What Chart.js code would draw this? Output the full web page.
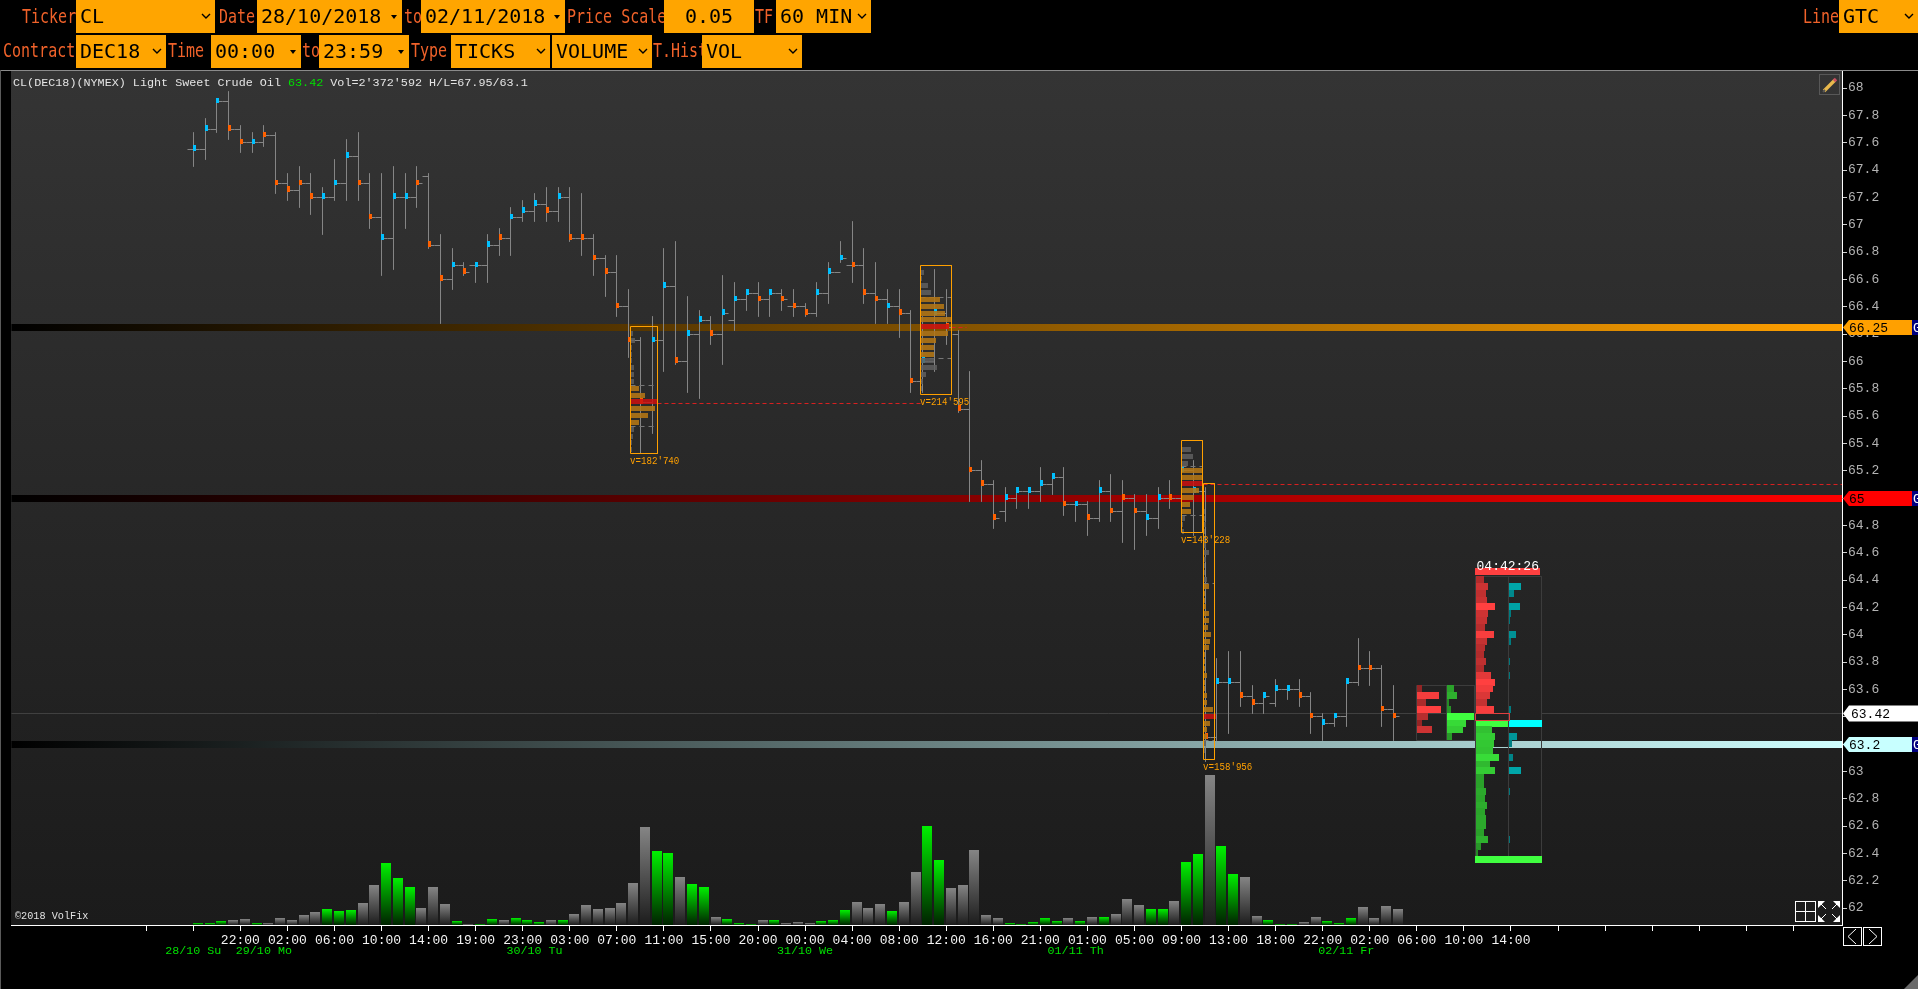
<!DOCTYPE html>
<html>
<head>
<meta charset="utf-8">
<title>CL DEC18 VolFix</title>
<script src="https://cdn.jsdelivr.net/npm/chart.js@4/dist/chart.umd.min.js"></script>
<style>
  html, body { margin: 0; padding: 0; background: #000; overflow: hidden; }
  #wrap { position: relative; width: 1918px; height: 989px; }
  #cv { position: absolute; left: 0; top: 0; }
  #overlay { position: absolute; left: 0; top: 0; width: 1918px; height: 989px; pointer-events: none; }
  .lbl, .wid, .txt { position: absolute; font-family: "DejaVu Sans Mono", monospace; white-space: pre; }
  .lbl { color: #f0622a; font-size: 15px; line-height: 18px; transform: scaleY(1.3); }
  .wid { background: #ffa500; color: #000; font-size: 20px; line-height: 33px; transform-origin: top left; }
  .txt { font-family: "Liberation Mono", monospace; color: #e4e4e4; }
  svg { position: absolute; }
</style>
</head>
<body>
<div id="wrap">
  <canvas id="cv" width="1918" height="989"></canvas>
  <div id="overlay"></div>
</div>
<script>
// price bars, one entry per 60 min bar
const opens = [67.55,67.55,67.7,67.9,67.7,67.6,67.6,67.65,67.3,67.25,67.3,67.2,67.2,67.3,67.5,67.3,67.05,66.9,67.2,67.2,67.35,66.85,66.6,66.7,66.7,66.7,66.85,66.9,67.05,67.1,67.15,67.1,67.2,66.9,66.9,66.75,66.65,66.4,66.15,65.7,66.15,66.55,66.0,66.2,66.3,66.2,66.3,66.45,66.5,66.45,66.5,66.4,66.4,66.35,66.5,66.65,66.7,66.7,66.5,66.45,66.4,66.35,65.85,66.0,66.35,66.2,65.65,65.2,65.1,64.9,65.0,65.05,65.05,65.1,65.15,64.95,64.95,64.85,65.05,64.9,65.0,64.9,64.85,65.0,65.0,65.2,65.05,63.25,63.65,63.65,63.55,63.5,63.5,63.6,63.6,63.55,63.4,63.35,63.4,63.65,63.75,63.75,63.45];
const highs = [67.65,67.75,67.9,67.95,67.7,67.65,67.7,67.65,67.35,67.4,67.35,67.25,67.45,67.6,67.65,67.35,67.35,67.4,67.35,67.4,67.35,66.9,66.8,66.7,66.7,66.9,66.95,67.1,67.15,67.2,67.25,67.25,67.25,67.2,66.9,66.75,66.75,66.5,66.15,66.3,66.8,66.85,66.45,66.35,66.3,66.6,66.55,66.5,66.55,66.5,66.5,66.5,66.4,66.55,66.7,66.85,67.0,66.8,66.7,66.5,66.5,66.35,66.3,66.65,66.5,66.2,65.9,65.25,65.1,65.05,65.05,65.05,65.2,65.15,65.2,64.95,64.95,65.1,65.15,65.1,65.0,65.0,65.05,65.1,65.25,65.25,65.05,63.8,63.85,63.85,63.6,63.55,63.65,63.6,63.65,63.55,63.4,63.4,63.65,63.95,63.85,63.75,63.6];
const lows = [67.45,67.5,67.7,67.65,67.55,67.55,67.6,67.25,67.2,67.15,67.1,66.95,67.2,67.2,67.2,67.0,66.65,66.7,67.0,67.15,66.85,66.3,66.55,66.65,66.6,66.6,66.8,66.8,67.05,67.05,67.05,67.05,66.9,66.8,66.65,66.5,66.35,66.05,65.35,65.5,65.95,66.0,65.8,65.75,66.15,66.0,66.25,66.4,66.35,66.35,66.4,66.35,66.35,66.35,66.45,66.75,66.6,66.45,66.3,66.3,66.2,65.8,65.8,65.95,66.15,65.65,65.0,65.0,64.8,64.85,64.95,64.95,65.0,65.05,64.9,64.85,64.75,64.85,64.85,64.7,64.65,64.75,64.8,64.95,64.8,64.75,63.1,63.25,63.3,63.5,63.45,63.45,63.5,63.55,63.5,63.3,63.25,63.35,63.35,63.65,63.65,63.35,63.25];
const closes = [67.55,67.7,67.9,67.7,67.6,67.6,67.65,67.3,67.25,67.3,67.2,67.2,67.3,67.5,67.3,67.05,66.9,67.2,67.2,67.3,66.85,66.6,66.7,66.65,66.7,66.85,66.9,67.05,67.1,67.15,67.1,67.2,66.9,66.9,66.75,66.65,66.4,66.15,65.7,66.15,66.55,66.0,66.2,66.3,66.2,66.35,66.45,66.5,66.45,66.5,66.45,66.4,66.35,66.5,66.65,66.75,66.7,66.5,66.45,66.4,66.35,65.85,66.0,66.35,66.25,65.65,65.2,65.1,64.85,65.0,65.05,65.05,65.1,65.15,64.95,64.95,64.85,65.05,64.9,65.0,64.9,64.85,65.0,65.0,65.2,65.05,63.25,63.65,63.65,63.55,63.5,63.55,63.6,63.6,63.55,63.4,63.35,63.4,63.65,63.75,63.75,63.45,63.4];
const volumes = [2120,2120,4240,5300,6360,2120,2120,7420,5300,10600,13780,16960,14840,15900,23320,42400,65720,49820,40280,18020,40280,22260,4240,1060,1060,6360,5300,7420,5300,3180,5300,5300,11660,21200,16960,18020,23320,44520,103880,78440,76320,50880,43460,40280,8480,6360,2120,1060,5300,5300,2120,3180,2120,4240,5300,15900,24380,18020,22260,14840,24380,56180,104940,68900,39220,42400,79500,10600,7420,2120,1060,3180,7420,4240,7420,4240,8480,8480,11660,27560,21200,16960,16960,25440,66780,75260,158956,83740,54060,50880,9540,5300,1060,1060,3180,8480,4240,2120,7420,19080,7420,20140,16960];
const greenBars = [1,2,3,6,12,13,14,17,18,19,23,25,26,28,29,30,32,40,41,43,44,46,47,48,50,54,55,56,60,63,64,70,71,72,73,74,76,78,82,83,85,86,88,89,92,93,94,97,98,99];
const orangeBars = [4,5,7,8,9,10,11,15,16,20,21,22,24,27,31,33,34,35,36,37,38,39,42,45,49,51,52,53,57,58,59,61,62,65,66,67,68,69,75,77,79,80,81,84,87,90,91,95,96,100,101,102,103];

// time axis
const timeLabels = ["22:00","02:00","06:00","10:00","14:00","19:00","23:00","03:00","07:00","11:00","15:00","20:00","00:00","04:00","08:00","12:00","16:00","21:00","01:00","05:00","09:00","13:00","18:00","22:00","02:00","06:00","10:00","14:00"];
const dateBars = [1,7,30,53,76,99];
const dateLabels = ["28/10 Su","29/10 Mo","30/10 Tu","31/10 We","01/11 Th","02/11 Fr"];

// horizontal GTC lines and price tags
const bandPrices = [66.25, 65, 63.2];
const bandColors = ["#ffa000", "#ff0000", "#d0ffff"];
const tagPrices = [66.25, 65, 63.42, 63.2];
const tagTexts = ["66.25", "65", "63.42", "63.2"];
const tagColors = ["#ffa000", "#ff0000", "#ffffff", "#c8ffff"];
const lastPrice = 63.42;

// volume profile boxes: first bar, last bar, top price, bottom price
const boxStart = [38.14, 62.79, 84.98, 86.85];
const boxEnd = [40.47, 65.46, 86.8, 87.82];
const boxTop = [66.256, 66.703, 65.422, 65.108];
const boxBottom = [65.324, 65.759, 64.749, 63.088];
const boxLabels = ["v=182'740", "v=214'595", "v=143'228", "v=158'956"];
const boxPoc = [65.7, 66.25, 65.1, 63.4];
const boxVah = [65.825, 66.465, 65.23, 64.375];
const boxVal = [65.525, 66.02, 64.875, 63.225];
const boxPrices = [
  [66.2,66.15,66.1,66.05,66.0,65.95,65.9,65.85,65.8,65.75,65.7,65.65,65.6,65.55,65.5,65.45,65.4,65.35],
  [66.65,66.6,66.55,66.5,66.45,66.4,66.35,66.3,66.25,66.2,66.15,66.1,66.05,66.0,65.95,65.9,65.85,65.8],
  [65.35,65.3,65.25,65.2,65.15,65.1,65.05,65.0,64.95,64.9,64.85,64.8,64.75],
  [64.9,64.85,64.8,64.75,64.7,64.65,64.6,64.55,64.5,64.45,64.4,64.35,64.3,64.25,64.2,64.15,64.1,64.05,64.0,63.95,63.9,63.85,63.8,63.75,63.7,63.65,63.6,63.55,63.5,63.45,63.4,63.35,63.3,63.25,63.2,63.15]
];
const boxSizes = [
  [2,4,1,1,1,3,3,3,8,14,26,24,17,8,3,2,1,1],
  [3,1,7,10,19,23,24,30,28,27,15,13,13,13,16,5,2,1],
  [9,11,6,20,20,20,17,12,8,9,3,1,2],
  [1,1,2,1,1,2,5,2,1,1,3,5,1,1,2,5,5,4,7,6,5,1,1,1,3,1,1,3,3,9,12,6,3,3,2,1]
];

// session profile panels on the right
const panelAPrices = [63.6,63.55,63.5,63.45,63.4,63.35,63.3,63.25];
const panelARed = [5,22,9,24,11,5,15,0];
const panelAGreen = [7,10,2,4,27,19,16,5];
const panelRedPrices = [64.4,64.35,64.3,64.25,64.2,64.15,64.1,64.05,64.0,63.95,63.9,63.85,63.8,63.75,63.7,63.65,63.6,63.55,63.5,63.45];
const panelRedSizes = [8,12,10,11,19,12,11,9,18,11,9,8,10,8,15,19,17,14,11,18];
const panelGreenPrices = [63.35,63.3,63.25,63.2,63.15,63.1,63.05,63.0,62.95,62.9,62.85,62.8,62.75,62.7,62.65,62.6,62.55,62.5,62.45,62.4];
const panelGreenSizes = [32,16,19,18,17,23,14,19,8,8,10,9,11,9,10,10,8,12,5,2];
const panelTealPrices = [64.35,64.3,64.2,64.15,64.1,64.0,63.95,63.8,63.7,63.45,63.35,63.25,63.2,63.1,63.0,62.85,62.5];
const panelTealSizes = [12,5,11,2,1,7,2,1,1,2,33,8,3,4,12,1,1];

const FONT = '"Liberation Mono", monospace';
const barsPerUnit = 1 / 11.765;
const xMin = -14.495, xMax = 141.14;
const halfTick = 0.025;

function mix(a, b, t) {
  t = Math.min(1, t);
  return "rgb(" + a.map((v, i) => Math.round(v + (b[i] - v) * t)).join(",") + ")";
}
function segments(list) {
  const out = [];
  list.forEach(s => {
    s.forEach(p => out.push({x: p[0], y: p[1]}));
    out.push({x: s[s.length - 1][0], y: null});
  });
  return out;
}
function rect(x0, x1, top, bottom) {
  return [[x0, top], [x1, top], [x1, bottom], [x0, bottom], [x0, top]];
}

const ohlcSegs = [];
closes.forEach((c, i) => {
  const x = i + 1;
  ohlcSegs.push([[x - 0.5, opens[i]], [x, opens[i]]]);
  ohlcSegs.push([[x, highs[i] + halfTick], [x, lows[i] - halfTick]]);
  ohlcSegs.push([[x, c], [x + 0.5, c]]);
});

const profileData = [], profileColors = [];
boxPrices.forEach((prices, b) => {
  const start = boxStart[b] + 0.06;
  prices.forEach((p, r) => {
    profileData.push({y: p, x: [start, start + boxSizes[b][r] * barsPerUnit]});
    let col = "rgba(95,95,95,.85)";
    if (p === boxPoc[b]) col = "rgba(205,15,15,.85)";
    else if (p < boxVah[b] && p > boxVal[b]) col = "rgba(180,118,20,.88)";
    profileColors.push(col);
  });
});

const rowData = [], rowColors = [];
function addRows(prices, sizes, start, dark, bright, full) {
  prices.forEach((p, r) => {
    if (!sizes[r]) return;
    rowData.push({y: p, x: [start, start + sizes[r] * barsPerUnit]});
    rowColors.push(mix(dark, bright, sizes[r] / full));
  });
}
addRows(panelAPrices, panelARed, 105.01, [120,30,30], [255,64,64], 24);
addRows(panelAPrices, panelAGreen, 107.57, [35,130,35], [64,255,64], 27);
addRows(panelRedPrices, panelRedSizes, 110.03, [120,30,30], [255,64,64], 19);
addRows(panelGreenPrices, panelGreenSizes, 110.03, [35,130,35], [64,255,64], 32);
addRows(panelTealPrices, panelTealSizes, 112.84, [0,115,120], [0,255,255], 33);

function bandGradient(color) {
  return ctx => {
    const area = ctx.chart.chartArea;
    if (!area) return color;
    const g = ctx.chart.ctx.createLinearGradient(area.left, 0, area.right, 0);
    g.addColorStop(0, "#000");
    g.addColorStop(1, color);
    return g;
  };
}
function volumeFill(ctx) {
  const i = ctx.dataIndex, chart = ctx.chart;
  const green = greenBars.includes(i + 1);
  const s = chart.scales.vol;
  if (!s || !chart.chartArea) return green ? "#00e000" : "#808080";
  const g = chart.ctx.createLinearGradient(0, s.getPixelForValue(volumes[i]), 0, s.getPixelForValue(0));
  g.addColorStop(0, green ? "#00f000" : "#858585");
  g.addColorStop(1, green ? "#002200" : "#1c1c1c");
  return g;
}

function line(label, data, color, width, order, extra) {
  return Object.assign({
    type: "line", label, data, borderColor: color, borderWidth: width, order,
    pointRadius: 0, fill: false, tension: 0, spanGaps: false, borderCapStyle: "butt"
  }, extra || {});
}
function hbars(label, data, colors, height, order) {
  return {
    type: "bar", label, data, backgroundColor: colors, indexAxis: "y", grouped: false,
    inflateAmount: 0, snapHeight: height, order, xAxisID: "x", yAxisID: "y"
  };
}

const datasets = [
  {
    type: "bar", label: "Volume", yAxisID: "vol", xAxisID: "x", order: 20, grouped: false, inflateAmount: 0, snapWidth: 10,
    data: volumes.map((v, i) => ({x: i + 1.43, y: v})), backgroundColor: volumeFill
  },
  line("Last", segments([[[xMin, lastPrice], [109.9, lastPrice]], [[115.61, lastPrice], [xMax, lastPrice]]]), "#404040", 1, 19),
  line("GTC 66.25", [{x: xMin, y: bandPrices[0]}, {x: xMax, y: bandPrices[0]}], bandGradient(bandColors[0]), 7, 18),
  line("GTC 65", [{x: xMin, y: bandPrices[1]}, {x: xMax, y: bandPrices[1]}], bandGradient(bandColors[1]), 7, 18),
  line("GTC 63.2", [{x: xMin, y: bandPrices[2]}, {x: xMax, y: bandPrices[2]}], bandGradient(bandColors[2]), 7, 18),
  line("OHLC", segments(ohlcSegs), "#858585", 1, 15),
  {
    type: "bar", label: "Close", order: 14, grouped: false, inflateAmount: 0, snapWidth: 3, xAxisID: "x", yAxisID: "y",
    data: closes.map((c, i) => ({x: i + 1.13, y: [c - 0.012, c + 0.03]})),
    backgroundColor: closes.map((c, i) => orangeBars.includes(i + 1) ? "#ff6000" : "#00c0ff")
  },
  line("Naked POC", segments([
    [[40.47, 65.69], [62.8, 65.69]],
    [[65.46, 66.25], [66.7, 66.25]],
    [[86.85, 65.1], [xMax, 65.1]]
  ]), "#d82020", 1, 13, {borderDash: [4, 3]}),
  line("Value area", segments(boxStart.flatMap((s, b) => [[[s, boxVah[b]], [boxEnd[b], boxVah[b]]], [[s, boxVal[b]], [boxEnd[b], boxVal[b]]]])), "#777", 1, 13, {borderDash: [5, 4]}),
  hbars("Profile", profileData, profileColors, 5, 12),
  line("Profile box", segments(boxStart.map((s, b) => rect(s, boxEnd[b], boxTop[b], boxBottom[b]))), "#ffa000", 1, 11),
  hbars("Panel back", [{y: 63.2, x: [109.95, 112.84]}], ["#1e1e1e"], 7, 10),
  line("Panel frames", segments([
    rect(104.96, 109.89, 63.63, 63.224), [[107.54, 63.63], [107.54, 63.224]],
    rect(109.95, 115.61, 64.429, 62.376), [[112.78, 64.429], [112.78, 62.376]]
  ]), "#3c3c3c", 1, 9),
  hbars("Panel rows", rowData, rowColors, 7, 8),
  line("Current row", segments([rect(109.95, 112.84, 63.425, 63.37)]), "#e04040", 1, 7),
  hbars("Session caps", [{y: 64.455, x: [109.95, 115.5]}, {y: 62.348, x: [109.95, 115.61]}], ["#ff4040", "#40ff40"], 7, 6)
];

const snapPlugin = {
  id: "snap",
  afterDatasetsUpdate(chart) {
    chart.data.datasets.forEach((ds, k) => {
      const meta = chart.getDatasetMeta(k);
      if (ds.type === "line") {
        meta.data.forEach(p => {
          if (!p.skip) { p.x = Math.floor(p.x) + 0.5; p.y = Math.floor(p.y) + 0.5; }
        });
        meta.dataset._path = undefined;
      } else if (ds.snapWidth) {
        const w = ds.snapWidth;
        meta.data.forEach(el => {
          el.x = Math.floor(el.x - w / 2) + w / 2;
          el.width = w;
          el.y = Math.round(el.y);
          el.base = Math.round(el.base);
        });
      } else if (ds.snapHeight) {
        const h = ds.snapHeight;
        meta.data.forEach(el => {
          el.y = Math.floor(el.y - h / 2) + h / 2;
          el.height = h;
          const b = Math.round(el.base);
          el.x = b + Math.max(1, Math.round(el.x - el.base));
          el.base = b;
        });
      }
    });
  }
};

const decorPlugin = {
  id: "decor",
  beforeDatasetsDraw(chart) {
    const {ctx, chartArea: a} = chart;
    const g = ctx.createLinearGradient(0, a.top, 0, a.bottom);
    g.addColorStop(0, "#343434");
    g.addColorStop(1, "#1b1b1b");
    ctx.save();
    ctx.fillStyle = g;
    ctx.fillRect(a.left, a.top, a.right - a.left, a.bottom - a.top);
    ctx.restore();
  },
  afterDraw(chart) {
    const {ctx, scales: {x, y}} = chart;
    ctx.save();
    ctx.textBaseline = "top";
    // box volume captions, squeezed a little to the reference width
    ctx.font = "10.5px " + FONT;
    ctx.fillStyle = "#ffa000";
    boxLabels.forEach((t, b) => {
      ctx.save();
      ctx.translate(Math.floor(x.getPixelForValue(boxStart[b])), Math.floor(y.getPixelForValue(boxBottom[b])) + 3);
      ctx.scale(0.87, 1);
      ctx.fillText(t, 0, 0);
      ctx.restore();
    });
    // session timer
    ctx.font = "13px " + FONT;
    ctx.fillStyle = "#fff";
    ctx.textAlign = "center";
    ctx.fillText("04:42:26", x.getPixelForValue(112.73), y.getPixelForValue(64.455) - 12);
    ctx.textAlign = "left";
    // price tags on the axis
    const tip = x.right + 1;
    ctx.textBaseline = "middle";
    tagPrices.forEach((p, i) => {
      const py = Math.floor(y.getPixelForValue(p)) + 0.5;
      const isLast = p === lastPrice;
      const hh = isLast ? 8 : 7.5;
      ctx.fillStyle = tagColors[i];
      ctx.beginPath();
      ctx.moveTo(tip, py);
      ctx.lineTo(tip + 6, py - hh);
      ctx.lineTo(1918, py - hh);
      ctx.lineTo(1918, py + hh);
      ctx.lineTo(tip + 6, py + hh);
      ctx.closePath();
      ctx.fill();
      ctx.fillStyle = "#000";
      ctx.font = "13px " + FONT;
      ctx.fillText(tagTexts[i], isLast ? tip + 8 : tip + 6, py + 1);
      if (!isLast) {
        ctx.fillStyle = "#000080";
        ctx.fillRect(1912, py - hh, 6, hh * 2);
        ctx.fillStyle = "#fff";
        ctx.fillText("G", 1913, py + 1);
      }
    });
    ctx.restore();
  }
};

const tickValues = [];
for (let v = -3; v <= 137; v += 4) tickValues.push(v);

function fixAxis(size, horizontal) {
  return s => {
    if (horizontal) s.height = size; else s.width = size;
    s.paddingLeft = s.paddingRight = s.paddingTop = s.paddingBottom = 0;
  };
}

new Chart(document.getElementById("cv"), {
  type: "bar",
  data: {datasets},
  plugins: [snapPlugin, decorPlugin],
  options: {
    responsive: false,
    animation: false,
    events: [],
    layout: {padding: {left: 11, top: 71, right: 0, bottom: 25}},
    plugins: {legend: {display: false}, tooltip: {enabled: false}, title: {display: false}},
    scales: {
      x: {
        type: "linear", position: "bottom", min: xMin, max: xMax, weight: 0, offset: false,
        afterBuildTicks: s => { s.ticks = tickValues.map(value => ({value})); },
        afterFit: fixAxis(21, true),
        border: {display: true, color: "#fff", width: 1},
        grid: {display: true, drawOnChartArea: false, drawTicks: true, tickLength: 6, tickColor: "#fff", offset: false},
        ticks: {
          autoSkip: false, maxRotation: 0, padding: 2, color: "#f4f4f4",
          font: {family: FONT, size: 13},
          callback: v => { const i = (v - 5) / 4; return i >= 0 && i < timeLabels.length ? timeLabels[i] : " "; }
        }
      },
      dates: {
        type: "linear", position: "bottom", min: xMin, max: xMax, weight: 1, offset: false,
        afterBuildTicks: s => { s.ticks = dateBars.map(value => ({value})); },
        afterFit: fixAxis(18, true),
        border: {display: false},
        grid: {display: false, drawTicks: false, offset: false},
        ticks: {
          autoSkip: false, maxRotation: 0, padding: -2, color: "#00e000",
          font: {family: FONT, size: 11.7},
          callback: v => { const i = dateBars.indexOf(v); return i >= 0 ? dateLabels[i] : ""; }
        }
      },
      y: {
        type: "linear", position: "right", min: 61.8758, max: 68.1244, offset: false,
        afterBuildTicks: s => {
          const t = [];
          for (let v = 620; v <= 680; v += 2) t.push({value: v / 10});
          s.ticks = t;
        },
        afterFit: fixAxis(76, false),
        border: {display: true, color: "#fff", width: 1},
        grid: {display: true, drawOnChartArea: false, drawTicks: true, tickLength: 5, tickColor: "#d0d0d0", offset: false},
        ticks: {
          autoSkip: false, padding: 1, color: "#b4b4b4", font: {family: FONT, size: 13},
          callback: v => String(+v.toFixed(1))
        }
      },
      vol: {type: "linear", display: false, position: "left", min: 0, max: 905240, offset: false}
    }
  }
});

// ---- toolbar above the chart ----
const overlay = document.getElementById("overlay");
const labels = [["Ticker",22,7],["Date",219,7],["to",404,7],["Price Scale",567,7],["TF",755,7],["Line",1803,7],
  ["Contract",3,42],["Time",168,42],["to",302,42],["Type",411,42],["T.Hist",653,42]];
labels.forEach(l => {
  const d = document.createElement("div");
  d.className = "lbl";
  d.textContent = l[0];
  d.style.left = l[1] + "px";
  d.style.top = l[2] + "px";
  overlay.appendChild(d);
});
// text, left, right, top, arrow kind
const widgets = [["CL",76,215,0,"v"],["28/10/2018",257,402,0,"t"],["02/11/2018",421,565,0,"t"],["0.05",664,754,0,""],["60 MIN",776,871,0,"v"],["GTC",1839,1918,0,"v"],
  ["DEC18",76,166,35,"v"],["00:00",211,301,35,"t"],["23:59",319,409,35,"t"],["TICKS",451,550,35,"v"],["VOLUME",552,652,35,"v"],["VOL",702,802,35,"v"]];
widgets.forEach(w => {
  const d = document.createElement("div");
  d.className = "wid";
  d.style.left = w[1] + "px";
  d.style.top = w[3] + "px";
  d.style.width = (w[2] - w[1]) + "px";
  d.style.height = "33px";
  const s = document.createElement("span");
  s.textContent = w[0];
  s.style.position = "absolute";
  s.style.left = w[0] === "0.05" ? "21px" : "4px";
  overlay.appendChild(d);
  d.appendChild(s);
  if (w[4]) {
    const x = w[2] - w[1] - 14, ns = "http://www.w3.org/2000/svg";
    const g = document.createElementNS(ns, "svg");
    g.setAttribute("width", 12); g.setAttribute("height", 8);
    g.style.left = x + "px"; g.style.top = "13px";
    g.innerHTML = w[4] === "v"
      ? '<polyline points="1,1 5,5 9,1" fill="none" stroke="#000" stroke-width="1.4"/>'
      : '<polygon points="3,2 9,2 6,6" fill="#000"/>';
    d.appendChild(g);
  }
});

overlay.insertAdjacentHTML("beforeend", `
<div style="position:absolute;left:0;top:70px;width:1918px;height:1px;background:#8a8a8a"></div>
<div style="position:absolute;left:0;top:70px;width:1px;height:919px;background:#5a5a5a"></div>
<div class="txt" style="left:13px;top:76px;font-size:11.75px;line-height:14px">CL(DEC18)(NYMEX) Light Sweet Crude Oil <span style="color:#00e000">63.42</span> Vol=2'372'592 H/L=67.95/63.1</div>
<div class="txt" style="left:15px;top:911px;font-size:10.2px;line-height:12px">©2018 VolFix</div>
<svg style="left:1819px;top:74px" width="22" height="22">
  <rect x="0.5" y="0.5" width="20" height="20" fill="none" stroke="#585858"/>
  <line x1="5" y1="17" x2="16" y2="6" stroke="#e8b84c" stroke-width="3.4"/>
  <line x1="15" y1="7" x2="17" y2="5" stroke="#c85060" stroke-width="3.4"/>
  <line x1="4" y1="18" x2="6" y2="16" stroke="#555" stroke-width="2"/>
</svg>
<svg style="left:1795px;top:900px" width="48" height="24" fill="none" stroke="#fff">
  <rect x="0.5" y="1.5" width="20" height="20"/>
  <line x1="10.5" y1="1" x2="10.5" y2="21"/><line x1="0" y1="11.5" x2="20" y2="11.5"/>
  <g fill="#fff" stroke="none">
    <polygon points="23,1 30,1 23,8"/><polygon points="45,1 38,1 45,8"/><polygon points="23,22 30,22 23,15"/><polygon points="45,22 38,22 45,15"/>
  </g>
  <line x1="26" y1="4" x2="31" y2="9"/><line x1="42" y1="4" x2="37" y2="9"/><line x1="26" y1="19" x2="31" y2="14"/><line x1="42" y1="19" x2="37" y2="14"/>
</svg>
<svg style="left:1843px;top:927px" width="40" height="20" fill="none" stroke="#fff">
  <rect x="0.5" y="0.5" width="18" height="18"/><rect x="20.5" y="0.5" width="18" height="18"/>
  <polyline points="13,2 5,9.5 13,17"/><polyline points="26,2 34,9.5 26,17"/>
</svg>
<svg style="left:1904px;top:975px" width="14" height="14"><polygon points="0,14 14,0 14,14" fill="#6a6a6a"/></svg>
`);
</script>
</body>
</html>
